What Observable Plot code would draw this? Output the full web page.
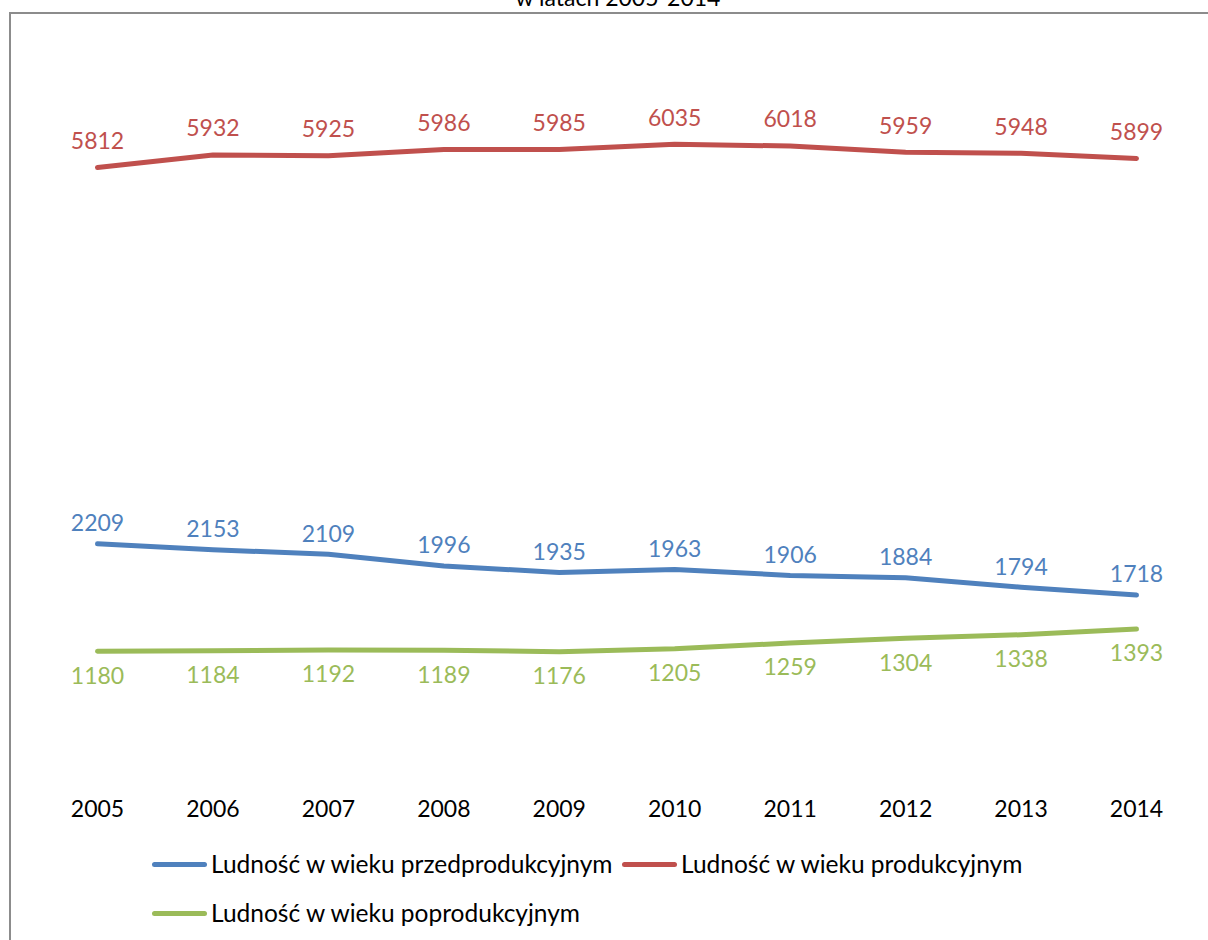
<!DOCTYPE html>
<html>
<head>
<meta charset="utf-8">
<script src="https://cdn.jsdelivr.net/npm/d3@7"></script>
<script src="https://cdn.jsdelivr.net/npm/@observablehq/plot@0.6"></script>
<style>
  html, body { margin: 0; padding: 0; background: #fff; overflow: hidden; }
  body { width: 1208px; height: 940px; position: relative; font-family: Lato, "Open Sans", sans-serif; }
  #frame { position: absolute; left: 9px; top: 12px; width: 1400px; height: 1100px; border: 2px solid #8c8c8c; box-sizing: border-box; }
  #title { position: absolute; left: 618px; top: -14px; transform: translateX(-50%); font-size: 23px; line-height: 23px; color: #000; white-space: nowrap; }
  #chart { position: absolute; left: 0; top: 0; }
  .leg { position: absolute; font-size: 24.5px; color: #000; white-space: nowrap; display: flex; align-items: center; line-height: 28px; }
  .sw { display: inline-block; width: 55px; height: 5px; border-radius: 3px; margin-right: 4px; }
</style>
</head>
<body>
<div id="title">w latach 2005-2014</div>
<div id="frame"></div>
<div id="chart"></div>
<div class="leg" style="left:152px; top:850px;"><span class="sw" style="background:#4F81BD"></span><span id="l0"></span></div>
<div class="leg" style="left:622px; top:850px;"><span class="sw" style="background:#C0504D"></span><span id="l1"></span></div>
<div class="leg" style="left:152px; top:899px;"><span class="sw" style="background:#9BBB59"></span><span id="l2"></span></div>
<script>
const years = [2005, 2006, 2007, 2008, 2009, 2010, 2011, 2012, 2013, 2014];
const przedprodukcyjny = [2209, 2153, 2109, 1996, 1935, 1963, 1906, 1884, 1794, 1718];
const produkcyjny = [5812, 5932, 5925, 5986, 5985, 6035, 6018, 5959, 5948, 5899];
const poprodukcyjny = [1180, 1184, 1192, 1189, 1176, 1205, 1259, 1304, 1338, 1393];
const seriesNames = [
  "Ludność w wieku przedprodukcyjnym",
  "Ludność w wieku produkcyjnym",
  "Ludność w wieku poprodukcyjnym"
];
const seriesColors = ["#4F81BD", "#C0504D", "#9BBB59"];
const seriesValues = [przedprodukcyjny, produkcyjny, poprodukcyjny];
const labelOffsets = [-20, -26, 25];

const data = [];
seriesValues.forEach((vals, s) => {
  vals.forEach((v, i) => data.push({year: years[i], value: v, series: seriesNames[s], s}));
});

const marks = [];
seriesNames.forEach((name, s) => {
  const d = data.filter(r => r.s === s);
  marks.push(Plot.line(d, {x: "year", y: "value", stroke: seriesColors[s], strokeWidth: 5, strokeLinecap: "round", strokeLinejoin: "round"}));
  marks.push(Plot.text(d, {x: "year", y: "value", text: r => String(r.value), fill: seriesColors[s], dy: labelOffsets[s], fontSize: 23}));
});
marks.push(Plot.axisX({tickSize: 0, tickPadding: 26, tickFormat: d => String(d), ticks: years, fontSize: 23, fill: "#000", label: null}));

const chart = Plot.plot({
  width: 1208,
  height: 940,
  marginLeft: 97,
  marginRight: 72,
  marginTop: 43,
  marginBottom: 166,
  style: {fontFamily: "Lato, 'Open Sans', sans-serif", fontSize: "23px", background: "transparent", overflow: "visible"},
  x: {domain: [2005, 2014], axis: null},
  y: {domain: [0, 7000], axis: null},
  marks
});
document.getElementById("chart").appendChild(chart);
document.getElementById("l0").textContent = seriesNames[0];
document.getElementById("l1").textContent = seriesNames[1];
document.getElementById("l2").textContent = seriesNames[2];
</script>
</body>
</html>
